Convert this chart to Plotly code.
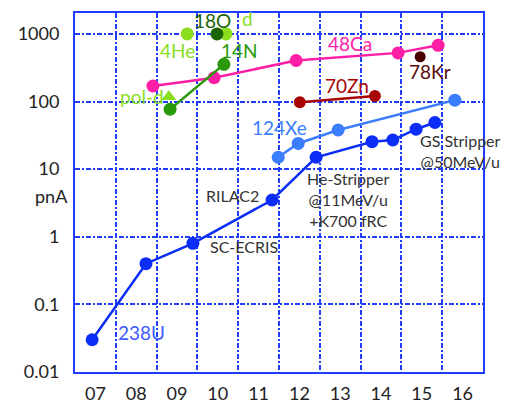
import plotly.graph_objects as go

# Beam intensities (pnA) by fiscal year
u238_year = [2006.92, 2008.24, 2009.39, 2011.33, 2012.41, 2013.78, 2014.29, 2014.86, 2015.32]
u238_pna = [0.03, 0.4, 0.8, 3.5, 15, 25.5, 27, 39, 49]

xe124_year = [2011.48, 2011.97, 2012.95, 2015.81]
xe124_pna = [15, 24, 38, 105]

ca48_year = [2008.41, 2009.91, 2011.92, 2014.42, 2015.40]
ca48_pna = [170, 225, 405, 525, 680]

zn70_year = [2012.01, 2013.85]
zn70_pna = [98, 121]

kr78_year = [2014.96]
kr78_pna = [460]

n14_year = [2008.83, 2010.15]
n14_pna = [77, 355]

o18_year = [2009.98]
o18_pna = [1000]

he4_year = [2009.25]
he4_pna = [1000]

d_year = [2010.20]
d_pna = [1000]

pold_year = [2008.80]
pold_pna = [118]

years = list(range(2007, 2017))
year_labels = ["07", "08", "09", "10", "11", "12", "13", "14", "15", "16"]
y_ticks = [0.01, 0.1, 1, 10, 100, 1000]
y_tick_labels = ["0.01", "0.1", "1", "10", "100", "1000"]

FONT = "Lato"
GRID = "#1f3dff"

fig = go.Figure()


def series(x, y, color, size=13, mode="lines+markers", symbol="circle"):
    fig.add_trace(go.Scatter(
        x=x, y=y, mode=mode,
        line=dict(color=color, width=2.5),
        marker=dict(color=color, size=size, symbol=symbol),
        showlegend=False, cliponaxis=False,
    ))


series(u238_year, u238_pna, "#0b2df5")
series(xe124_year, xe124_pna, "#3b7dff")
series(ca48_year, ca48_pna, "#ff1ea6")
series(zn70_year, zn70_pna, "#a80505", size=12)
series(kr78_year, kr78_pna, "#4a0000", size=11, mode="markers")
series(n14_year, n14_pna, "#2a9a0c")
series(he4_year, he4_pna, "#8ade1e", mode="markers")
series(d_year, d_pna, "#8ade1e", mode="markers")
series(o18_year, o18_pna, "#1b6404", mode="markers")
series(pold_year, pold_pna, "#8ade1e", size=13, mode="markers", symbol="triangle-up")

labels = [
    ("18O", 2009.86, 3.20, "#1b6404", 19),
    ("d", 2010.74, 3.23, "#8ade1e", 19),
    ("4He", 2009.00, 2.75, "#8ade1e", 19),
    ("14N", 2010.52, 2.75, "#2a9a0c", 19),
    ("pol-d", 2008.14, 2.08, "#8ade1e", 19),
    ("48Ca", 2013.24, 2.86, "#ff1ea6", 19),
    ("70Zn", 2013.17, 2.24, "#a80505", 19),
    ("78Kr", 2015.20, 2.45, "#5a0a0a", 19),
    ("124Xe", 2011.50, 1.62, "#3b7dff", 19),
    ("238U", 2008.12, -1.42, "#3b5bff", 19),
    ("SC-ECRIS", 2010.64, -0.14, "#333333", 16),
    ("RILAC2", 2010.37, 0.61, "#333333", 16),
    ("He-Stripper<br>@11MeV/u<br>+K700 fRC", 2013.19, 0.55, "#333333", 16),
    ("GS Stripper<br>@50MeV/u", 2015.96, 1.27, "#333333", 16),
]
for text, x, y, color, size in labels:
    fig.add_annotation(x=x, y=y, xref="x", yref="y", text=text, showarrow=False,
                       font=dict(family=FONT, size=size, color=color))

fig.add_annotation(x=-0.103, y=0.489, xref="paper", yref="paper", text="pnA",
                   showarrow=False, font=dict(family=FONT, size=18, color="#222222"))

fig.update_xaxes(
    range=[2006.5, 2016.5],
    tickvals=years, ticktext=year_labels,
    showgrid=False, zeroline=False,
    showline=True, mirror=True, linecolor=GRID, linewidth=2,
    ticks="", ticklabelstandoff=4,
    tickfont=dict(family=FONT, size=18, color="#222222"),
    minor=dict(tick0=2006.5, dtick=1, showgrid=True, gridcolor=GRID,
               gridwidth=2, griddash="5px,2px,2px,2px"),
)
fig.update_yaxes(
    type="log", range=[-2, 3.31],
    tickvals=y_ticks, ticktext=y_tick_labels,
    showgrid=True, gridcolor=GRID, gridwidth=2, griddash="5px,2px,2px,2px",
    zeroline=False,
    showline=True, mirror=True, linecolor=GRID, linewidth=2,
    ticks="", ticklabelstandoff=10,
    tickfont=dict(family=FONT, size=18, color="#222222"),
)

fig.update_layout(
    width=512, height=415,
    margin=dict(l=75, r=29, t=11, b=28),
    paper_bgcolor="white", plot_bgcolor="white",
    font=dict(family=FONT),
)

fig.write_html("out.html")
